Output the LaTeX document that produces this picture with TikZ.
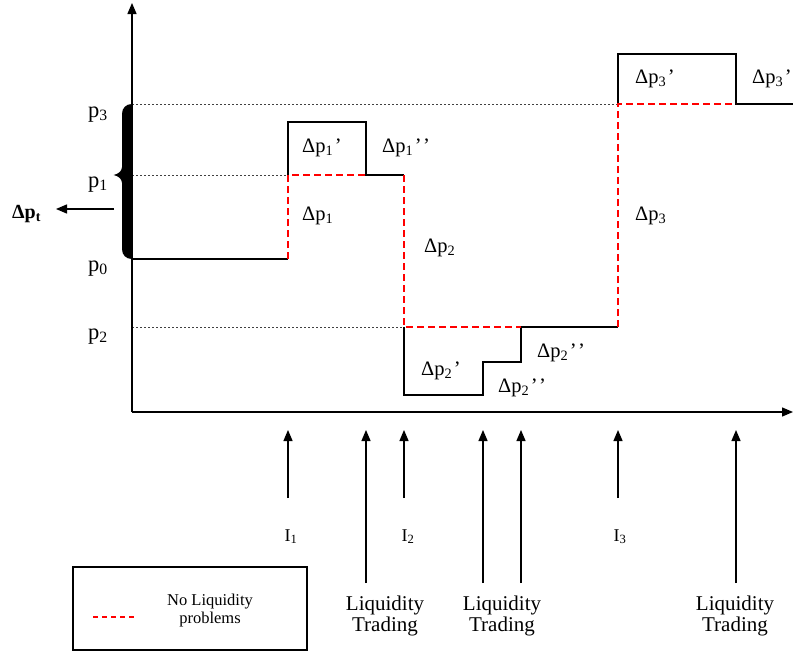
\documentclass[tikz,border=0pt]{standalone}
\usepackage{fontspec}
\setmainfont{Liberation Serif}
\usetikzlibrary{arrows.meta}
\newcommand{\qq}{\kern1.5pt’}
\newcommand{\qqq}{\kern1.5pt’\kern1.5pt’}
\begin{document}
\begin{tikzpicture}[x=1pt,y=-1pt,
  axisline/.style={line width=1.4pt,-{Triangle[length=11pt,width=9pt]}},
  stepline/.style={line width=1.3pt,line join=miter},
  nolq/.style={red,line width=1.3pt,dash pattern=on 7pt off 4pt},
  guide/.style={line width=0.6pt,dash pattern=on 2pt off 2pt,black!75},
  evarrow/.style={line width=1.3pt,-{Triangle[length=11pt,width=9pt]}},
  plbl/.style={font=\fontsize{22.5}{24}\selectfont,inner sep=0pt,anchor=base west},
  dlbl/.style={font=\fontsize{20.5}{22}\selectfont,inner sep=0pt,anchor=base west},
  ilbl/.style={font=\fontsize{18}{20}\selectfont,inner sep=0pt,anchor=base},
  ltlbl/.style={font=\fontsize{21}{21}\selectfont,inner sep=0pt,anchor=base,align=center},
  leglbl/.style={font=\fontsize{16.5}{18}\selectfont,inner sep=0pt,anchor=base,align=center}
]
\useasboundingbox (0,0) rectangle (793,653);

% axes
\coordinate (O) at (132,412);
\coordinate (ytop) at (132,3);
\coordinate (xend) at (793,412);

% guide dotted lines
\coordinate (g3a) at (132,104); \coordinate (g3b) at (618,104);
\coordinate (g1a) at (132,175); \coordinate (g1b) at (288,175);
\coordinate (g2a) at (132,327); \coordinate (g2b) at (404,327);
\draw[guide] (g3a) -- (g3b);
\draw[guide] (g1a) -- (g1b);
\draw[guide] (g2a) -- (g2b);

% black price path
\draw[stepline] (132,259) -- (288,259);
\draw[stepline] (288,175) -- (288,122) -- (366,122) -- (366,175) -- (404,175);
\draw[stepline] (404,327) -- (404,395) -- (483,395) -- (483,362) -- (521,362) -- (521,327) -- (618,327);
\draw[stepline] (618,104) -- (618,54) -- (736,54) -- (736,104) -- (793,104);

% red dashed: no liquidity problems
\draw[nolq] (288,259) -- (288,175) -- (366,175);
\draw[nolq] (404,175) -- (404,327) -- (521,327);
\draw[nolq] (618,327) -- (618,104) -- (736,104);

% axes on top
\draw[axisline] (O) -- (ytop);
\draw[axisline] (O) -- (xend);

% brace
\fill (132,104) .. controls (126,104) and (122,108) .. (122,114)
  -- (122,167) .. controls (122,171) and (118.5,174) .. (113.5,175)
  .. controls (118.5,176) and (122,179) .. (122,183)
  -- (122,249) .. controls (122,255) and (126,259) .. (132,259) -- cycle;

% delta p_t arrow
\coordinate (dtstart) at (114,209);
\coordinate (dtend) at (56,209);
\draw[line width=1.3pt,-{Triangle[length=11pt,width=9pt]}] (dtstart) -- (dtend);
\node[font=\fontsize{20}{22}\selectfont\bfseries,inner sep=0pt,anchor=base west] (dpt) at (12,218) {Δp\textsubscript{t}};

% p labels
\node[plbl] (p3) at (88,117) {p\textsubscript{3}};
\node[plbl] (p1) at (88,187) {p\textsubscript{1}};
\node[plbl] (p0) at (88,271) {p\textsubscript{0}};
\node[plbl] (p2) at (88,339) {p\textsubscript{2}};

% delta labels
\node[dlbl] (d1a) at (302,152) {Δp\textsubscript{1}\qq};
\node[dlbl] (d1b) at (382,152) {Δp\textsubscript{1}\qqq};
\node[dlbl] (d1) at (302,220) {Δp\textsubscript{1}};
\node[dlbl] (d2) at (424,252) {Δp\textsubscript{2}};
\node[dlbl] (d2a) at (421,375) {Δp\textsubscript{2}\qq};
\node[dlbl] (d2b) at (537,357) {Δp\textsubscript{2}\qqq};
\node[dlbl] (d2c) at (498,392) {Δp\textsubscript{2}\qqq};
\node[dlbl] (d3) at (635,220) {Δp\textsubscript{3}};
\node[dlbl] (d3a) at (635,83) {Δp\textsubscript{3}\qq};
\node[dlbl] (d3b) at (752,83) {Δp\textsubscript{3}\qq};

% event arrows
\coordinate (e1b) at (288,498); \coordinate (e1t) at (288,430);
\coordinate (l1b) at (366,583); \coordinate (l1t) at (366,430);
\coordinate (e2b) at (404,498); \coordinate (e2t) at (404,430);
\coordinate (l2b) at (483,583); \coordinate (l2t) at (483,430);
\coordinate (l3b) at (521,583); \coordinate (l3t) at (521,430);
\coordinate (e3b) at (618,498); \coordinate (e3t) at (618,430);
\coordinate (l4b) at (736,583); \coordinate (l4t) at (736,430);
\foreach \a in {e1,l1,e2,l2,l3,e3,l4} \draw[evarrow] (\a b) -- (\a t);

\node[ilbl] (I1) at (291,541) {I\textsubscript{1}};
\node[ilbl] (I2) at (408,541) {I\textsubscript{2}};
\node[ilbl] (I3) at (620,541) {I\textsubscript{3}};

\node[ltlbl] (lt1) at (385,631) {Liquidity\\Trading};
\node[ltlbl] (lt2) at (502,631) {Liquidity\\Trading};
\node[ltlbl] (lt3) at (735,631) {Liquidity\\Trading};

% legend
\node[draw,line width=1.2pt,minimum width=234pt,minimum height=83pt,inner sep=0pt] (legend) at (190,608.5) {};
\coordinate (lga) at (93,617); \coordinate (lgb) at (134,617);
\draw[red,line width=1.2pt,dash pattern=on 5pt off 4pt] (lga) -- (lgb);
\node[leglbl] (legtxt) at (210,623) {No Liquidity\\problems};
\end{tikzpicture}
\end{document}
